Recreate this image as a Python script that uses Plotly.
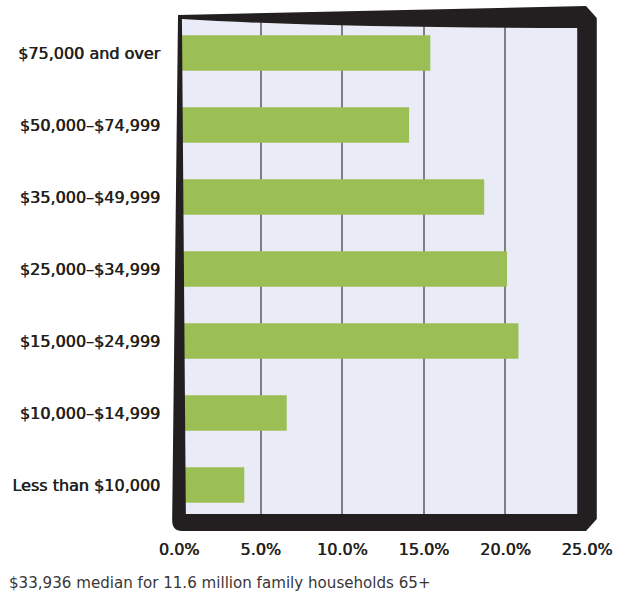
import plotly.graph_objects as go

# Income brackets of family households 65+ and their share (%)
categories = [
    "$75,000 and over",
    "$50,000–$74,999",
    "$35,000–$49,999",
    "$25,000–$34,999",
    "$15,000–$24,999",
    "$10,000–$14,999",
    "Less than $10,000",
]
shares = [15.4, 14.1, 18.7, 20.1, 20.8, 6.6, 4.0]
x_ticks = [0, 5, 10, 15, 20, 25]
x_tick_labels = ["0.0%", "5.0%", "10.0%", "15.0%", "20.0%", "25.0%"]
footnote = "$33,936 median for 11.6 million family households 65+"

W, H = 624, 596
L, R, T, B = 176, 31, 17, 75
PW, PH = W - L - R, H - T - B

INK = "#231F20"
FONT = "DejaVu Sans"
# a thin horizontal text shadow gives the labels a semibold look
SEMIBOLD = f"0.6px 0 0 {INK}"


def px(x, y):
    """Page pixel -> paper coordinates."""
    return f"{(x - L) / PW:.5f},{(H - B - y) / PH:.5f}"


# Heavy hand-drawn frame around the plotting area (outer contour + inner hole)
outer = (
    f"M{px(175, 15)} L{px(592, 6)} L{px(603, 18)} L{px(603, 519)} "
    f"L{px(592, 531)} L{px(179, 531)} Q{px(169, 531)} {px(169, 520)} Z"
)
inner = (
    f"M{px(179, 19)} Q{px(330, 28)} {px(583, 28)} L{px(583, 514)} "
    f"L{px(183, 514)} Z"
)

fig = go.Figure(
    go.Bar(
        x=shares,
        y=categories,
        orientation="h",
        marker=dict(color="#9BBE55", line=dict(width=0)),
        width=0.49,
        hoverinfo="x+y",
    )
)

fig.update_layout(
    width=W,
    height=H,
    margin=dict(l=L, r=R, t=T, b=B, pad=0),
    paper_bgcolor="white",
    plot_bgcolor="#E9ECF6",
    showlegend=False,
    xaxis=dict(
        range=[0, 25],
        tickvals=x_ticks,
        ticktext=x_tick_labels,
        showgrid=True,
        gridcolor="#7E7E84",
        gridwidth=1.5,
        zeroline=False,
        showline=False,
        ticks="",
        ticklabelstandoff=17,
        tickfont=dict(family=FONT, size=16, color=INK, shadow=SEMIBOLD),
        fixedrange=True,
    ),
    yaxis=dict(
        categoryorder="array",
        categoryarray=categories,
        autorange=False,
        range=[6.5, -0.5],
        showgrid=False,
        zeroline=False,
        showline=False,
        ticks="",
        ticklabelstandoff=18,
        tickfont=dict(family=FONT, size=16, color=INK, shadow=SEMIBOLD),
        fixedrange=True,
    ),
    shapes=[
        dict(
            type="path",
            xref="paper",
            yref="paper",
            path=outer + " " + inner,
            fillrule="evenodd",
            fillcolor=INK,
            line=dict(width=0),
            layer="above",
        )
    ],
    annotations=[
        dict(
            text=footnote,
            xref="paper",
            yref="paper",
            x=(0 - L) / PW,
            y=(H - B - 583) / PH,
            xanchor="left",
            yanchor="middle",
            align="left",
            showarrow=False,
            font=dict(family=FONT, size=15.1, color="#3A3637"),
        )
    ],
)

fig.write_html("out.html")
